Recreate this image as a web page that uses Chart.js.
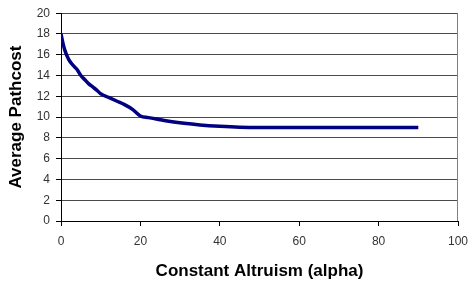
<!DOCTYPE html>
<html>
<head>
<meta charset="utf-8">
<script src="https://cdn.jsdelivr.net/npm/chart.js@4"></script>
<style>
  html, body { margin: 0; padding: 0; background: #fff; }
  #wrap { width: 468px; height: 282px; }
</style>
</head>
<body>
<div id="wrap"><canvas id="chart" width="468" height="282"></canvas></div>
<script>
// data
const alphaValues = [0, 0.5, 1, 2, 3, 4, 5, 6, 7, 8, 9, 10, 12, 14, 16, 18, 20, 22, 25, 28, 31, 35, 40, 45, 50, 60, 70, 80, 90];
const pathcost = [18, 17.1, 16.4, 15.5, 15.0, 14.6, 14.0, 13.6, 13.2, 12.9, 12.6, 12.25, 11.9, 11.55, 11.2, 10.75, 10.1, 9.95, 9.75, 9.55, 9.4, 9.25, 9.12, 9.03, 9.0, 9.0, 9.0, 9.0, 9.0];
const xTicks = [0, 20, 40, 60, 80, 100];
const yTicks = [0, 2, 4, 6, 8, 10, 12, 14, 16, 18, 20];

const xTitle = "Constant Altruism (alpha)";
const yTitle = "Average Pathcost";

const points = alphaValues.map((a, i) => ({ x: a, y: pathcost[i] }));

// gray frame line on the right side of the plot area (Excel style)
const rightFrame = {
  id: "rightFrame",
  afterDraw(chart) {
    const { ctx, chartArea } = chart;
    const x = Math.round(chartArea.right) - 0.5;
    ctx.save();
    ctx.strokeStyle = "#808080";
    ctx.lineWidth = 1;
    ctx.beginPath();
    ctx.moveTo(x, chartArea.top);
    ctx.lineTo(x, chartArea.bottom);
    ctx.stroke();
    ctx.restore();
  }
};

const tickFont = { family: "Liberation Sans, Arial", size: 12 };
const titleFont = { family: "Liberation Sans, Arial", size: 17, weight: "bold" };

new Chart(document.getElementById("chart").getContext("2d"), {
  type: "line",
  data: {
    datasets: [{
      data: points,
      borderColor: "#000080",
      borderWidth: 3.5,
      pointRadius: 0,
      fill: false,
      cubicInterpolationMode: "monotone"
    }]
  },
  options: {
    responsive: false,
    animation: false,
    layout: { padding: { top: 13, right: 10, left: 0, bottom: 0 } },
    plugins: { legend: { display: false }, tooltip: { enabled: false } },
    scales: {
      x: {
        type: "linear",
        min: 0, max: 100,
        afterBuildTicks: s => { s.ticks = xTicks.map(v => ({ value: v })); },
        afterFit: s => { s.height = 61; s.paddingLeft = 0; s.paddingRight = 0; },
        border: { color: "#000", width: 1 },
        grid: { color: "rgba(0,0,0,0)", tickColor: "#000", tickLength: 5 },
        ticks: { font: tickFont, color: "#333", padding: 8, maxRotation: 0 },
        title: { display: true, text: xTitle, color: "#000", font: titleFont, padding: { top: 4, bottom: 0 } }
      },
      y: {
        min: 0, max: 20,
        afterBuildTicks: s => { s.ticks = yTicks.map(v => ({ value: v })); },
        afterFit: s => { s.width = 61; },
        border: { color: "#000", width: 1 },
        grid: { color: "#4a4a4a", tickColor: "#000", tickLength: 5 },
        ticks: { font: tickFont, color: "#333", padding: 6 },
        title: { display: true, text: yTitle, color: "#000", font: titleFont, padding: { top: 6, bottom: 0 } }
      }
    }
  },
  plugins: [rightFrame]
});
</script>
</body>
</html>
